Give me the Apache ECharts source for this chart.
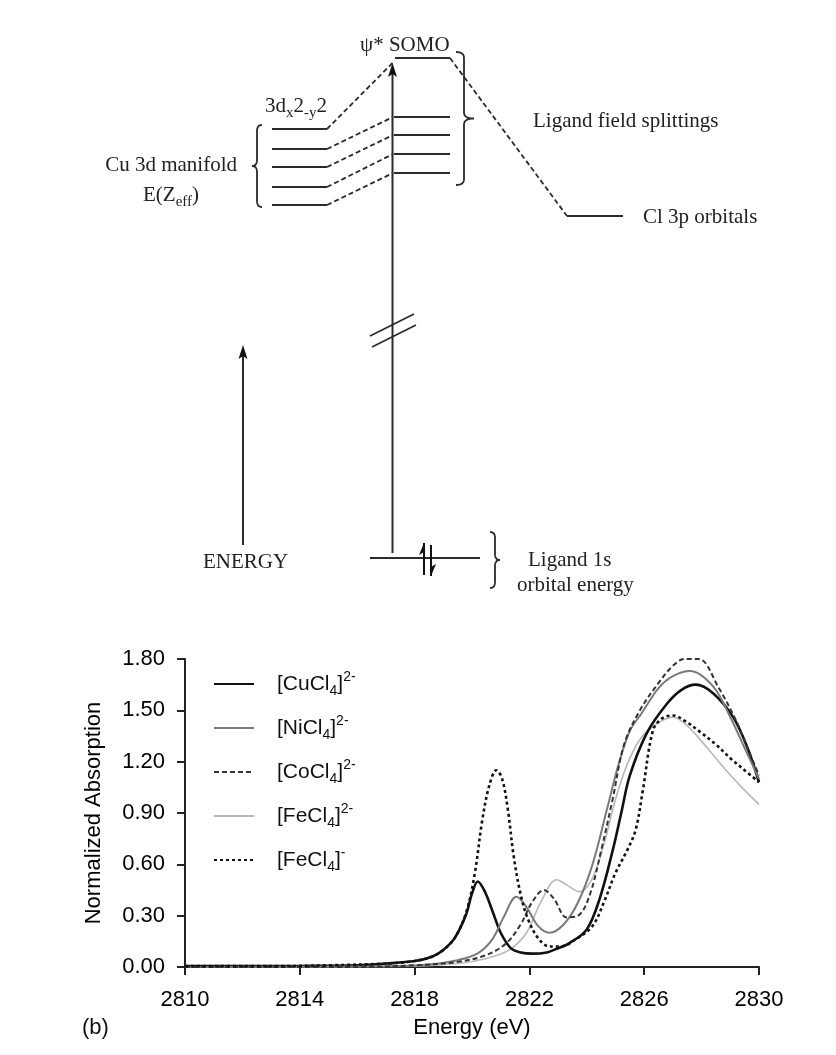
<!DOCTYPE html>
<html>
<head>
<meta charset="utf-8">
<script src="https://cdn.jsdelivr.net/npm/echarts@6/dist/echarts.min.js"></script>
<style>
  html, body { margin: 0; padding: 0; background: #fff; }
  #chart { width: 836px; height: 1055px; }
</style>
</head>
<body>
<div id="chart"></div>
<script>
// ---------- (a) energy-level scheme, schematic units: x across, E upward ----------
const cuLevels = [483, 463, 445, 425, 407];          // Cu 3d manifold, top level is 3dx2-y2
const ligandFieldLevels = [495, 477, 458, 439];      // split d levels after bonding
const somoLevel = 554;                               // psi* SOMO
const cl3pLevel = 396;                               // Cl 3p orbitals
const ligand1sLevel = 54;                            // Cl 1s core level
const cuColumn = [272, 327];
const lfColumn = [394, 450];
const cl3pColumn = [567, 623];
const ligand1sColumn = [370, 480];
const transitionX = 392.5;
const energyArrow = { x: 243, from: 67, to: 267 };

// ---------- (b) Cl K-edge spectra: [energy (eV), normalized absorption] ----------
const energyTicks = [2810, 2814, 2818, 2822, 2826, 2830];
const absorptionTicks = [0.0, 0.3, 0.6, 0.9, 1.2, 1.5, 1.8];
const seriesNames = ['[CuCl4]2-', '[NiCl4]2-', '[CoCl4]2-', '[FeCl4]2-', '[FeCl4]-'];

const cuCl4 = [
  [2810, 0.005], [2812, 0.005], [2814, 0.006], [2816, 0.01], [2817, 0.02], [2818, 0.035],
  [2818.6, 0.06], [2819.0, 0.1], [2819.4, 0.17], [2819.8, 0.31], [2820.0, 0.43], [2820.2, 0.50],
  [2820.45, 0.44], [2820.75, 0.31], [2821.0, 0.2], [2821.35, 0.11], [2821.7, 0.085], [2822.1, 0.078],
  [2822.6, 0.085], [2823.0, 0.11], [2823.4, 0.14], [2824.0, 0.22], [2824.45, 0.40], [2824.9, 0.68],
  [2825.2, 0.9], [2825.5, 1.12], [2826.1, 1.37], [2826.8, 1.54], [2827.3, 1.62], [2827.8, 1.65],
  [2828.4, 1.60], [2829.1, 1.46], [2829.6, 1.28], [2830, 1.08]
];
const niCl4 = [
  [2810, 0.0], [2817, 0.005], [2818.5, 0.015], [2819.5, 0.04], [2820.2, 0.08], [2820.7, 0.16],
  [2821.1, 0.29], [2821.55, 0.41], [2821.9, 0.35], [2822.3, 0.24], [2822.7, 0.2], [2823.2, 0.25],
  [2823.7, 0.38], [2824.2, 0.6], [2824.7, 0.92], [2825.1, 1.18], [2825.5, 1.38], [2825.9, 1.48],
  [2826.5, 1.63], [2827.0, 1.70], [2827.6, 1.73], [2828.4, 1.64], [2829.0, 1.46], [2829.5, 1.28], [2830, 1.1]
];
const coCl4 = [
  [2810, 0.0], [2816, 0.0], [2818, 0.01], [2819.5, 0.03], [2820.5, 0.07], [2821.2, 0.14],
  [2821.7, 0.25], [2822.1, 0.38], [2822.5, 0.45], [2822.85, 0.40], [2823.3, 0.29], [2823.7, 0.30],
  [2824.1, 0.42], [2824.5, 0.68], [2824.9, 0.98], [2825.3, 1.3], [2825.85, 1.5], [2826.5, 1.66],
  [2827.0, 1.76], [2827.4, 1.8], [2827.9, 1.8], [2828.6, 1.63], [2829.2, 1.44], [2829.6, 1.28], [2830, 1.12]
];
const feCl4II = [
  [2810, 0.0], [2818, 0.005], [2819.5, 0.02], [2820.5, 0.05], [2821.3, 0.1], [2821.9, 0.2],
  [2822.4, 0.38], [2822.95, 0.51], [2823.3, 0.48], [2823.75, 0.44], [2824.2, 0.52], [2824.6, 0.72],
  [2825.0, 0.98], [2825.4, 1.18], [2825.85, 1.33], [2826.43, 1.42], [2827.0, 1.46], [2827.47, 1.415],
  [2828.2, 1.28], [2828.8, 1.16], [2829.4, 1.05], [2830, 0.95]
];
const feCl4III = [
  [2810, 0.005], [2813, 0.005], [2815, 0.01], [2817, 0.02], [2818, 0.035], [2818.6, 0.06],
  [2819.0, 0.1], [2819.4, 0.17], [2819.8, 0.32], [2820.1, 0.55], [2820.35, 0.85], [2820.6, 1.06],
  [2820.85, 1.15], [2821.05, 1.1], [2821.25, 0.92], [2821.45, 0.65], [2821.7, 0.42], [2821.95, 0.28],
  [2822.3, 0.17], [2822.7, 0.12], [2823.1, 0.12], [2823.6, 0.16], [2824.2, 0.24], [2824.6, 0.38],
  [2825.0, 0.55], [2825.4, 0.68], [2825.7, 0.8], [2825.95, 1.03], [2826.3, 1.38], [2826.6, 1.45],
  [2827.0, 1.47], [2827.4, 1.44], [2827.9, 1.38], [2828.5, 1.30], [2829.0, 1.22], [2829.5, 1.15], [2830, 1.08]
];

const serif = '"Liberation Serif", "Times New Roman", serif';
const sans = '"Liberation Sans", Arial, sans-serif';
const ink = '#2b2b2b';

// ---------- build the scheme as a list of drawable pieces ----------
const diagram = [];
cuLevels.forEach(e => diagram.push({ kind: 'level', x1: cuColumn[0], x2: cuColumn[1], e }));
ligandFieldLevels.forEach(e => diagram.push({ kind: 'level', x1: lfColumn[0], x2: lfColumn[1], e }));
diagram.push({ kind: 'level', x1: lfColumn[0] + 1, x2: lfColumn[1], e: somoLevel });
diagram.push({ kind: 'level', x1: cl3pColumn[0], x2: cl3pColumn[1], e: cl3pLevel });
diagram.push({ kind: 'level', x1: ligand1sColumn[0], x2: ligand1sColumn[1], e: ligand1sLevel });

// correlation lines
diagram.push({ kind: 'dash', a: [cuColumn[1], cuLevels[0]], b: [transitionX, somoLevel - 5] });
ligandFieldLevels.forEach((e, i) =>
  diagram.push({ kind: 'dash', a: [cuColumn[1], cuLevels[i + 1]], b: [lfColumn[0] - 1, e] }));
diagram.push({ kind: 'dash', a: [lfColumn[1], somoLevel], b: [cl3pColumn[0], cl3pLevel] });

// transition arrow, energy axis arrow, axis break
diagram.push({ kind: 'arrow', x: transitionX, e1: ligand1sLevel + 5, e2: somoLevel - 5 });
diagram.push({ kind: 'arrow', x: energyArrow.x, e1: energyArrow.from, e2: energyArrow.to });
diagram.push({ kind: 'seg', a: [370, 276], b: [414, 298] });
diagram.push({ kind: 'seg', a: [372, 265], b: [416, 287] });

// paired core electrons
diagram.push({ kind: 'spin', x: 424, e1: ligand1sLevel - 17, e2: ligand1sLevel + 15, up: true });
diagram.push({ kind: 'spin', x: 431, e1: ligand1sLevel + 13, e2: ligand1sLevel - 18, up: false });

// braces
diagram.push({ kind: 'brace', x: 257, e1: cuLevels[0] + 4, e2: cuLevels[4] - 2, dir: -1, tip: 5, end: 5 });
diagram.push({ kind: 'brace', x: 464, e1: somoLevel + 6, e2: ligandFieldLevels[3] - 12, dir: 1, tip: 10, end: 8 });
diagram.push({ kind: 'brace', x: 495, e1: ligand1sLevel + 26, e2: ligand1sLevel - 30, dir: 1, tip: 5, end: 5 });

// labels
const T = (x, e, text, align, extra) => diagram.push(Object.assign({ kind: 'text', x, e, text, align: align || 'left' }, extra || {}));
T(360, 567, '\u03C8* SOMO');
T(265, 491, '{n|3d}{s|x}{n|2}{s|-y}{n|2}', 'left', { va: 'bottom' });
T(237, 447, 'Cu 3d manifold', 'right');
T(171, 417, '{n|E(Z}{s|eff}{n|)}', 'center');
T(533, 491, 'Ligand field splittings');
T(643, 395, 'Cl 3p orbitals');
T(203, 50, 'ENERGY');
T(528, 52, 'Ligand 1s');
T(517, 27, 'orbital energy');

function bracePoints(x, yt, yb, dir, tip, end) {
  const ym = (yt + yb) / 2, r = 6, pts = [];
  const quad = (p0, p1, p2) => {
    for (let k = 0; k <= 8; k++) {
      const t = k / 8, u = 1 - t;
      pts.push([u * u * p0[0] + 2 * u * t * p1[0] + t * t * p2[0], u * u * p0[1] + 2 * u * t * p1[1] + t * t * p2[1]]);
    }
  };
  const sgn = yb > yt ? 1 : -1;
  quad([x - dir * end, yt], [x, yt], [x, yt + sgn * r]);
  quad([x, ym - sgn * r], [x, ym], [x + dir * tip, ym]);
  quad([x + dir * tip, ym], [x, ym], [x, ym + sgn * r]);
  quad([x, yb - sgn * r], [x, yb], [x - dir * end, yb]);
  return pts;
}

function renderDiagram(params, api) {
  const it = diagram[params.dataIndex];
  const P = (x, e) => api.coord([x, e]);
  if (it.kind === 'level') {
    const a = P(it.x1, it.e), b = P(it.x2, it.e);
    return { type: 'line', shape: { x1: a[0], y1: a[1], x2: b[0], y2: b[1] }, style: { stroke: ink, lineWidth: 2 } };
  }
  if (it.kind === 'dash' || it.kind === 'seg') {
    const a = P(it.a[0], it.a[1]), b = P(it.b[0], it.b[1]);
    return { type: 'line', shape: { x1: a[0], y1: a[1], x2: b[0], y2: b[1] },
      style: { stroke: ink, lineWidth: it.kind === 'dash' ? 1.8 : 1.6, lineDash: it.kind === 'dash' ? [5, 3] : null } };
  }
  if (it.kind === 'arrow') {
    const a = P(it.x, it.e1), b = P(it.x, it.e2);
    return { type: 'group', children: [
      { type: 'line', shape: { x1: a[0], y1: a[1], x2: b[0], y2: b[1] + 10 }, style: { stroke: ink, lineWidth: 2 } },
      { type: 'polygon', shape: { points: [[b[0], b[1]], [b[0] - 4.5, b[1] + 14], [b[0], b[1] + 11], [b[0] + 4.5, b[1] + 14]] }, style: { fill: '#111' } }
    ] };
  }
  if (it.kind === 'spin') {
    const a = P(it.x, it.e1), b = P(it.x, it.e2);
    return { type: 'group', children: [
      { type: 'line', shape: { x1: a[0], y1: a[1], x2: b[0], y2: b[1] }, style: { stroke: '#111', lineWidth: 2 } },
      { type: 'polygon', shape: { points: it.up ? [[b[0], b[1]], [b[0] - 5, b[1] + 12], [b[0], b[1] + 9]] : [[b[0], b[1]], [b[0] + 5, b[1] - 12], [b[0], b[1] - 9]] },
        style: { fill: '#111' } }
    ] };
  }
  if (it.kind === 'brace') {
    const a = P(it.x, it.e1), b = P(it.x, it.e2);
    return { type: 'polyline', shape: { points: bracePoints(a[0], a[1], b[1], it.dir, it.tip, it.end) },
      style: { stroke: ink, lineWidth: 1.8, fill: null } };
  }
  if (it.kind === 'text') {
    const p = P(it.x, it.e);
    return { type: 'text', x: p[0], y: p[1], style: {
      text: it.text, fill: '#222', fontSize: 21, fontFamily: serif,
      align: it.align, verticalAlign: it.va || 'middle',
      rich: {
        n: { fontSize: 21, fontFamily: serif, fill: '#222', lineHeight: 30, verticalAlign: 'middle' },
        s: { fontSize: 15, fontFamily: serif, fill: '#222', lineHeight: 15, verticalAlign: 'bottom' }
      } } };
  }
  return null;
}

// legend names with sub/superscripts
function richName(name) {
  const m = name.match(/^\[([A-Za-z]+)(\d)\](.*)$/);
  return '{n|[' + m[1] + '}{sb|' + m[2] + '}{n|]}{sp|' + m[3] + '}';
}

const curveStyles = [
  { color: '#111111', width: 2.6, type: 'solid' },
  { color: '#7a7a7a', width: 2.0, type: 'solid' },
  { color: '#333333', width: 2.0, type: [5, 3] },
  { color: '#b8b8b8', width: 1.6, type: 'solid' },
  { color: '#111111', width: 2.6, type: [3, 3] }
];
const curveData = [cuCl4, niCl4, coCl4, feCl4II, feCl4III];

const option = {
  animation: false,
  backgroundColor: '#ffffff',
  grid: [
    { left: 0, top: 0, width: 836, height: 612 },
    { left: 185, top: 659, width: 574, height: 308 }
  ],
  xAxis: [
    { gridIndex: 0, type: 'value', min: 0, max: 836, show: false },
    { gridIndex: 1, type: 'value', min: energyTicks[0], max: energyTicks[energyTicks.length - 1], interval: 4,
      name: 'Energy (eV)', nameLocation: 'middle', nameGap: 50,
      nameTextStyle: { fontFamily: sans, fontSize: 22, color: '#000' },
      axisLine: { onZero: false, lineStyle: { color: '#222', width: 2 } },
      axisTick: { length: 8, lineStyle: { color: '#222', width: 2 } },
      axisLabel: { margin: 22, fontFamily: sans, fontSize: 22, color: '#000', formatter: v => String(v) },
      splitLine: { show: false } }
  ],
  yAxis: [
    { gridIndex: 0, type: 'value', min: 0, max: 612, show: false },
    { gridIndex: 1, type: 'value', min: absorptionTicks[0], max: absorptionTicks[absorptionTicks.length - 1], interval: 0.3,
      name: 'Normalized Absorption', nameLocation: 'middle', nameGap: 80, nameRotate: 90,
      nameTextStyle: { fontFamily: sans, fontSize: 22, color: '#000' },
      axisLine: { show: true, lineStyle: { color: '#222', width: 2 } },
      axisTick: { show: true, length: 8, lineStyle: { color: '#222', width: 2 } },
      axisLabel: { margin: 20, fontFamily: sans, fontSize: 22, color: '#000', formatter: v => v.toFixed(2) },
      splitLine: { show: false } }
  ],
  legend: {
    data: seriesNames, orient: 'vertical', left: 208, top: 665,
    itemWidth: 40, itemHeight: 14, itemGap: 16, selectedMode: false,
    itemStyle: { color: 'rgba(0,0,0,0)', borderWidth: 0, opacity: 0 },
    formatter: richName,
    textStyle: {
      padding: [0, 0, 0, 18],
      rich: {
        n: { fontFamily: sans, fontSize: 21, color: '#111', lineHeight: 28, verticalAlign: 'middle' },
        sb: { fontFamily: sans, fontSize: 14, color: '#111', lineHeight: 14, verticalAlign: 'bottom' },
        sp: { fontFamily: sans, fontSize: 14, color: '#111', lineHeight: 14, verticalAlign: 'top' }
      }
    }
  },
  graphic: [
    { type: 'text', left: 82, top: 1017, style: { text: '(b)', fontFamily: sans, fontSize: 22, fill: '#111' } }
  ],
  series: [
    { type: 'custom', name: 'scheme', xAxisIndex: 0, yAxisIndex: 0, clip: false, silent: true,
      renderItem: renderDiagram, data: diagram.map((_, i) => [i, 0]) }
  ].concat(seriesNames.map((name, i) => ({
    name, type: 'line', xAxisIndex: 1, yAxisIndex: 1, data: curveData[i],
    symbol: 'none', showSymbol: false, smooth: 0.35, clip: true,
    lineStyle: { color: curveStyles[i].color, width: curveStyles[i].width, type: curveStyles[i].type },
    itemStyle: { color: curveStyles[i].color },
    z: 3 + (i === 3 ? -1 : 0)
  })))
};

const chart = echarts.init(document.getElementById('chart'));
chart.setOption(option);
</script>
</body>
</html>
